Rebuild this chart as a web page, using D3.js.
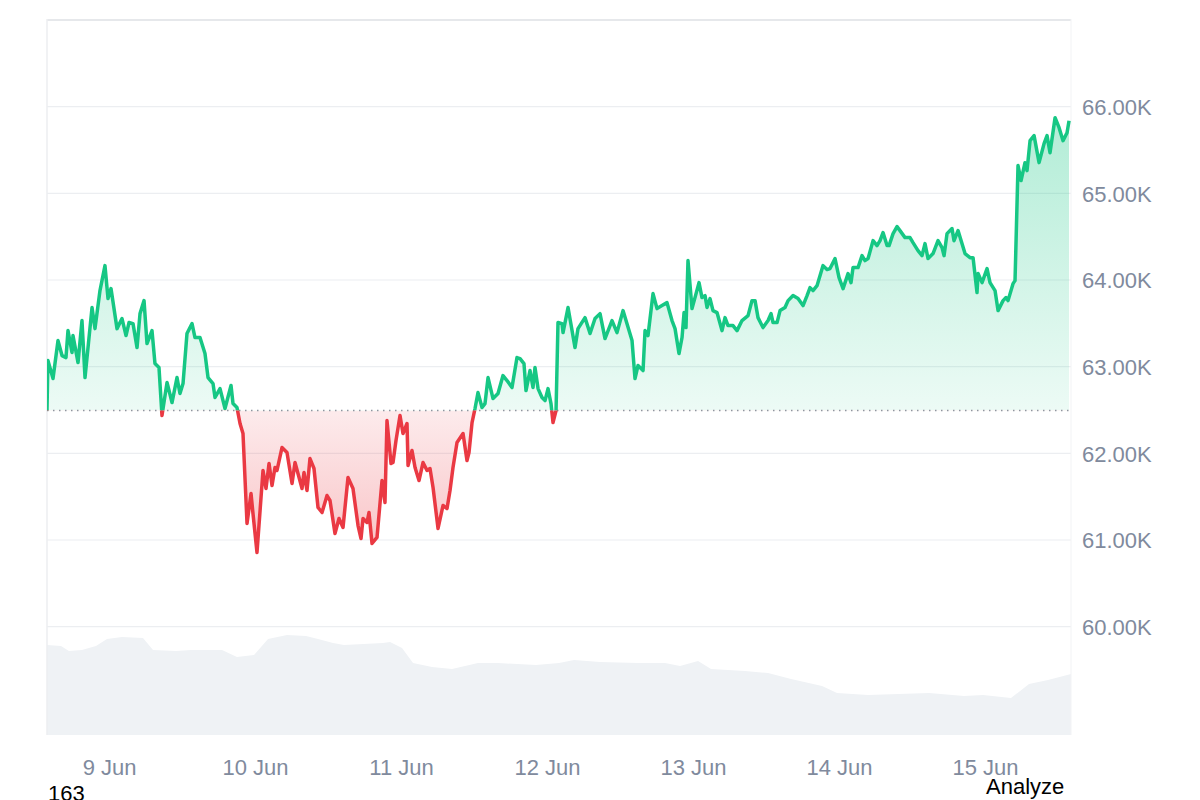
<!DOCTYPE html>
<html>
<head>
<meta charset="utf-8">
<script src="https://cdn.jsdelivr.net/npm/d3@7"></script>
<style>
  html, body { margin: 0; padding: 0; background: #ffffff; }
  svg { display: block; font-family: "Liberation Sans", Arial, sans-serif; }
</style>
</head>
<body>
<svg id="chart" width="1200" height="800"></svg>
<script>
// ---------- DATA ----------
// hours since the start of the window (8 Jun 13:48 UTC), and price in USD
const priceHours = [
  0, 0.15, 0.99, 1.81, 2.47, 3.12, 3.45, 4.11, 4.27, 5.10,
  5.75, 6.25, 7.40, 7.89, 8.71, 9.53, 10.03, 10.52, 11.51, 12.33,
  12.99, 13.48, 14.14, 14.80, 15.29, 15.95, 16.44, 17.26, 17.75, 18.41,
  18.90, 19.73, 20.55, 21.37, 21.86, 22.36, 23.01, 23.84, 24.33, 25.15,
  25.97, 26.47, 27.29, 27.62, 28.44, 29.26, 30.25, 30.58, 31.23, 31.73,
  32.22, 32.88, 33.54, 33.86, 34.52, 35.51, 36.00, 36.50, 36.99, 37.48,
  37.81, 38.63, 39.45, 40.28, 40.77, 41.26, 41.92, 42.25, 42.74, 43.23,
  43.89, 44.55, 45.21, 46.03, 46.52, 47.34, 48.00, 48.66, 49.48, 50.30,
  51.13, 51.62, 51.95, 52.60, 52.93, 53.43, 54.25, 55.07, 55.56, 55.89,
  56.55, 56.88, 57.37, 58.03, 58.52, 59.18, 59.35, 60.00, 60.50, 61.15,
  61.81, 62.47, 62.96, 63.46, 64.28, 65.10, 65.76, 66.25, 66.74, 67.40,
  68.39, 69.04, 69.37, 69.87, 70.36, 70.85, 71.51, 72.00, 72.50, 73.32,
  74.14, 74.96, 75.62, 76.44, 77.26, 77.76, 78.41, 78.74, 79.40, 79.89,
  80.22, 80.72, 81.37, 81.87, 82.36, 82.85, 83.18, 83.68, 84.00, 84.66,
  84.83, 85.65, 86.80, 87.29, 88.44, 89.27, 90.09, 90.91, 91.73, 92.88,
  93.70, 94.69, 96.17, 96.66, 97.15, 97.98, 98.31, 98.80, 99.62, 100.28,
  101.10, 101.92, 102.74, 103.24, 103.89, 104.39, 104.72, 105.04, 105.37, 106.03,
  106.52, 107.18, 107.67, 108.17, 108.50, 108.99, 109.48, 110.14, 110.96, 111.46,
  111.95, 112.77, 113.43, 114.25, 115.24, 115.89, 116.39, 116.88, 117.70, 118.53,
  119.02, 119.35, 120.01, 120.50, 121.32, 121.82, 122.64, 123.46, 124.28, 124.94,
  125.43, 125.92, 126.58, 127.57, 128.22, 128.72, 129.54, 130.20, 130.86, 131.68,
  132.17, 132.50, 133.32, 133.98, 134.47, 134.97, 135.79, 136.44, 136.94, 137.43,
  138.09, 138.42, 139.08, 139.73, 140.22, 141.05, 141.87, 142.36, 143.18, 143.84,
  144.33, 144.83, 145.65, 146.47, 147.13, 147.46, 147.95, 148.77, 149.10, 149.76,
  150.91, 151.73, 152.23, 152.88, 153.05, 153.71, 154.53, 155.02, 155.84, 156.34,
  157.16, 157.65, 157.98, 158.80, 159.13, 159.62, 160.12, 160.77, 161.10, 161.60,
  162.26, 163.08, 163.90, 164.39, 164.88, 165.71, 166.37, 167.02, 167.68, 168.01
];
const priceValues = [
  62494, 63070, 62863, 63301, 63128, 63105, 63416, 63163, 63359, 63047,
  63532, 62874, 63682, 63439, 63878, 64166, 63786, 63901, 63439, 63555,
  63359, 63509, 63497, 63220, 63612, 63762, 63266, 63416, 63036, 62990,
  62436, 62817, 62586, 62874, 62690, 62805, 63382, 63497, 63336, 63336,
  63151, 62874, 62805, 62644, 62747, 62517, 62782, 62574, 62528, 62344,
  62228, 61190, 61536, 61306, 60856, 61802, 61594, 61882, 61629, 61836,
  61802, 62067, 62009, 61652, 61894, 61767, 61594, 61779, 61571, 61940,
  61825, 61375, 61317, 61513, 61456, 61075, 61248, 61144, 61721, 61594,
  61167, 61017, 61248, 61202, 61317, 60960, 61029, 61686, 61433, 62378,
  61882, 61894, 62148, 62436, 62228, 62344, 61859, 62032, 61836, 61686,
  61894, 61802, 61825, 61606, 61133, 61398, 61363, 61571, 61836, 62125,
  62228, 61917, 62009, 62355, 62517, 62701, 62528, 62574, 62874, 62632,
  62690, 62897, 62840, 62759, 63105, 63093, 63036, 62724, 62955, 62759,
  62990, 62747, 62644, 62609, 62747, 62574, 62355, 62494, 63509, 63497,
  63393, 63682, 63220, 63439, 63566, 63382, 63555, 63612, 63324, 63532,
  63393, 63647, 63301, 62863, 63013, 62955, 63416, 63359, 63843, 63670,
  63705, 63739, 63532, 63439, 63151, 63336, 63624, 63451, 64224, 63670,
  63797, 63970, 63797, 63820, 63682, 63786, 63647, 63624, 63416, 63566,
  63474, 63474, 63416, 63532, 63589, 63762, 63762, 63566, 63451, 63532,
  63612, 63509, 63509, 63647, 63682, 63762, 63820, 63786, 63705, 63820,
  63912, 63878, 63935, 64166, 64120, 64132, 64247, 64028, 63901, 64074,
  63970, 64143, 64143, 64281, 64224, 64247, 64454, 64397, 64454, 64547,
  64397, 64397, 64535, 64616, 64570, 64489, 64489, 64431, 64339, 64281,
  64420, 64247, 64305, 64454, 64374, 64281, 64535, 64593, 64454, 64570,
  64305, 64258, 64258, 63855, 64074, 63970, 64132, 63970, 63878, 63647,
  63762, 63797, 63762, 63958, 63993, 65320, 65147, 65354, 65262, 65608,
  65666, 65354, 65573, 65666, 65469, 65873, 65758, 65608, 65700, 65838
];
// volume (relative units, hidden scale)
const volHours = [0, 2.3, 3.6, 5.75, 8.05, 9.86, 12.33, 15.78, 17.43, 21.21,
  23.67, 28.77, 31.23, 34.03, 36.33, 39.45, 42.58, 44.55, 47.02, 48.82,
  55.23, 56.39, 58.36, 60.17, 63.29, 66.58, 70.85, 74.14, 80.39, 84.17,
  86.63, 90.91, 97.15, 101.59, 104.06, 107.02, 109.16, 114.75, 118.53, 122.31,
  127.40, 129.87, 134.97, 145.0, 150.75, 153.87, 158.47, 161.43, 164.55, 168.33];
const volValues = [36, 35.6, 33.6, 34, 35.6, 38.4, 39.2, 38.8, 34, 33.6,
  34, 34, 31.2, 32, 38.4, 40, 39.6, 38.4, 36.8, 36,
  36.8, 37.2, 34.8, 28.8, 27.2, 26.4, 28.8, 28.8, 28, 28.8,
  30, 29.2, 28.8, 28.8, 27.6, 29.6, 26.4, 25.6, 24.8, 22.4,
  19.6, 16.8, 16, 16.8, 15.6, 16, 14.8, 20.4, 22, 24.4];
const yTickValues = [60000, 61000, 62000, 63000, 64000, 65000, 66000];
const yTopLine = 67000;
const baselinePrice = priceValues[0];
const windowHours = 168.33;
const startTime = Date.UTC(2024, 5, 8, 13, 48);
const footLeft = "163";
const footRight = "Analyze";

// ---------- SETUP ----------
const HOUR = 3600 * 1000;
const toDate = h => new Date(startTime + h * HOUR);
const prices = d3.zip(priceHours, priceValues).map(([h, v]) => ({ t: toDate(h), v }));
const vols = d3.zip(volHours, volValues).map(([h, v]) => ({ t: toDate(h), v }));

const svg = d3.select("#chart");
const L = 47, R = 1071, T = 20, B = 735;

const x = d3.scaleUtc().domain([toDate(0), toDate(windowHours)]).range([L, R]);
const y = d3.scaleLinear().domain([58750, 67000]).range([B, T]);
const yVol = d3.scaleLinear().domain([0, 46]).range([B, B - 115]);

const GREEN = "#16c784", RED = "#ea3943";
const yBase = y(baselinePrice);

const defs = svg.append("defs");
const gG = defs.append("linearGradient").attr("id", "gGreen")
  .attr("gradientUnits", "userSpaceOnUse").attr("x1", 0).attr("x2", 0)
  .attr("y1", y(d3.max(priceValues))).attr("y2", yBase);
gG.append("stop").attr("offset", 0).attr("stop-color", GREEN).attr("stop-opacity", 0.33);
gG.append("stop").attr("offset", 1).attr("stop-color", GREEN).attr("stop-opacity", 0.08);
const gR = defs.append("linearGradient").attr("id", "gRed")
  .attr("gradientUnits", "userSpaceOnUse").attr("x1", 0).attr("x2", 0)
  .attr("y1", yBase).attr("y2", y(d3.min(priceValues)));
gR.append("stop").attr("offset", 0).attr("stop-color", RED).attr("stop-opacity", 0.1);
gR.append("stop").attr("offset", 1).attr("stop-color", RED).attr("stop-opacity", 0.3);

defs.append("clipPath").attr("id", "clipUp").append("rect")
  .attr("x", L).attr("y", 0).attr("width", R - L).attr("height", yBase);
defs.append("clipPath").attr("id", "clipDown").append("rect")
  .attr("x", L).attr("y", yBase).attr("width", R - L).attr("height", 800 - yBase);

// ---------- GRID ----------
svg.append("g").selectAll("line").data(yTickValues).join("line")
  .attr("x1", L).attr("x2", R).attr("y1", d => y(d)).attr("y2", d => y(d))
  .attr("stroke", "#eceef1").attr("stroke-width", 1.2);
svg.append("line").attr("x1", L).attr("x2", R).attr("y1", y(yTopLine)).attr("y2", y(yTopLine))
  .attr("stroke", "#e6e8eb").attr("stroke-width", 2);

// ---------- VOLUME ----------
svg.append("path").datum(vols)
  .attr("d", d3.area().x(d => x(d.t)).y0(B).y1(d => yVol(d.v)))
  .attr("fill", "#eff2f5");

// frame verticals
svg.append("line").attr("x1", L).attr("x2", L).attr("y1", y(yTopLine) - 1).attr("y2", B)
  .attr("stroke", "#eceef1").attr("stroke-width", 1.5);
svg.append("line").attr("x1", R).attr("x2", R).attr("y1", y(yTopLine) - 1).attr("y2", B)
  .attr("stroke", "#f2f3f5").attr("stroke-width", 1);

// ---------- PRICE AREA ----------
const area = d3.area().x(d => x(d.t)).y0(yBase).y1(d => y(d.v));
const line = d3.line().x(d => x(d.t)).y(d => y(d.v));

svg.append("path").datum(prices).attr("d", area).attr("fill", "url(#gGreen)").attr("clip-path", "url(#clipUp)");
svg.append("path").datum(prices).attr("d", area).attr("fill", "url(#gRed)").attr("clip-path", "url(#clipDown)");

// baseline dotted
svg.append("line").attr("x1", L).attr("x2", R).attr("y1", yBase).attr("y2", yBase)
  .attr("stroke", "#8f959f").attr("stroke-width", 1.3).attr("stroke-dasharray", "1.5,4.5");

svg.append("path").datum(prices).attr("d", line).attr("fill", "none")
  .attr("stroke", GREEN).attr("stroke-width", 3.5).attr("stroke-linejoin", "round")
  .attr("clip-path", "url(#clipUp)");
svg.append("path").datum(prices).attr("d", line).attr("fill", "none")
  .attr("stroke", RED).attr("stroke-width", 3.5).attr("stroke-linejoin", "round")
  .attr("clip-path", "url(#clipDown)");

// ---------- AXES ----------
const yAxis = svg.append("g").attr("transform", `translate(${R},0)`)
  .call(d3.axisRight(y).tickValues(yTickValues)
    .tickFormat(d => (d / 1000).toFixed(2) + "K").tickSize(0).tickPadding(11));
yAxis.select(".domain").remove();
yAxis.selectAll("text").attr("fill", "#808a9d").style("font-size", "22px")
  .style("font-family", '"Liberation Sans", Arial, sans-serif').attr("dy", "0.36em");

const xAxis = svg.append("g").attr("transform", `translate(0,${B})`)
  .call(d3.axisBottom(x).ticks(d3.utcDay.every(1))
    .tickFormat(d3.utcFormat("%-d %b")).tickSize(0).tickPadding(24));
xAxis.select(".domain").remove();
xAxis.selectAll("text").attr("fill", "#808a9d").style("font-size", "22px")
  .style("font-family", '"Liberation Sans", Arial, sans-serif');

// ---------- FOOTER TEXT ----------
svg.append("text").attr("x", 48).attr("y", 801).text(footLeft)
  .attr("fill", "#000").style("font-size", "22px");
svg.append("text").attr("x", 986).attr("y", 794).text(footRight)
  .attr("fill", "#000").style("font-size", "22px");
</script>
</body>
</html>
